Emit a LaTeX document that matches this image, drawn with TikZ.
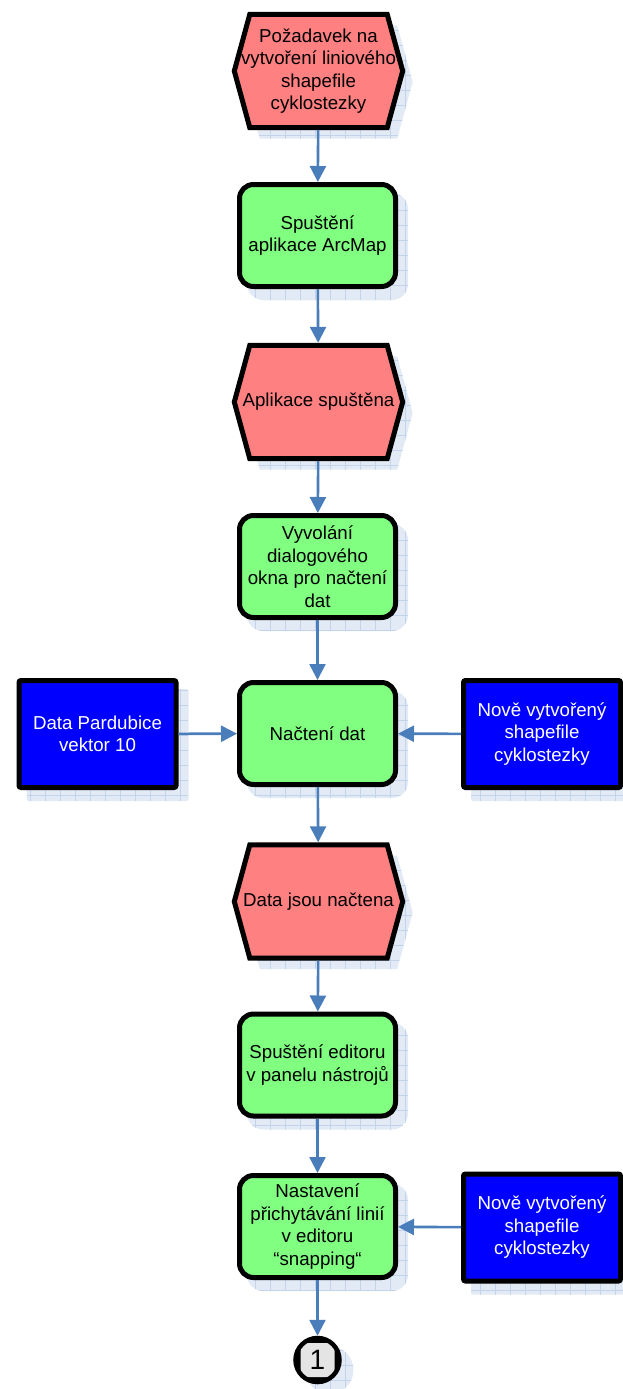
\documentclass[tikz,border=0pt]{standalone}
\usepackage{fontspec}
\setmainfont{Liberation Sans}
\usetikzlibrary{arrows.meta,backgrounds,calc}

\definecolor{evtpink}{HTML}{FF8080}
\definecolor{fungreen}{HTML}{80FF80}
\definecolor{datablue}{HTML}{0000FF}
\definecolor{flowblue}{HTML}{4A7EBB}
\definecolor{shadowfill}{HTML}{E2EAF5}
\definecolor{shadowgrid}{HTML}{C3D3EA}
\definecolor{connbg}{HTML}{E4E4E4}

% hexagon outline around a (text) node; #2,#3 shift it
\newcommand\hexpath[3]{($(#1.west)+(2.5+#2,#3)$) -- ($(#1.north west)+(18+#2,2.5+#3)$) -- ($(#1.north east)+(-18+#2,2.5+#3)$) -- ($(#1.east)+(-2.5+#2,#3)$) -- ($(#1.south east)+(-18+#2,-2.5+#3)$) -- ($(#1.south west)+(18+#2,-2.5+#3)$) -- cycle}

% gridded drop shadow behind a box node
\newcommand\boxshadow[2]{%
  \fill[shadowfill, rounded corners=#2] ($(#1.north west)+(10,11)$) rectangle ($(#1.south east)+(10,11)$);
  \begin{scope}
    \clip[rounded corners=#2] ($(#1.north west)+(10,11)$) rectangle ($(#1.south east)+(10,11)$);
    \draw[shadowgrid, line width=0.6pt, step=15pt] ($(#1.north west)+(10,11)$) grid ($(#1.south east)+(10,11)$);
  \end{scope}}

% gridded drop shadow plus outline for an event hexagon
\newcommand\eventshape[1]{%
  \fill[shadowfill] \hexpath{#1}{10}{11};
  \begin{scope}
    \clip \hexpath{#1}{10}{11};
    \draw[shadowgrid, line width=0.6pt, step=15pt] ($(#1.north west)+(0,0)$) grid ($(#1.south east)+(20,20)$);
  \end{scope}
  \draw[line width=5pt, fill=evtpink, line join=miter] \hexpath{#1}{0}{0};}

\begin{document}
\begin{tikzpicture}[x=1pt,y=-1pt,
  txt/.style={font=\fontsize{18.7}{22.5}\selectfont, align=center, inner sep=0pt},
  funcbox/.style={txt, draw=black, line width=5pt, fill=fungreen, rounded corners=14pt,
                  minimum width=156pt, minimum height=102pt},
  databox/.style={txt, text=white, draw=black, line width=5pt, fill=datablue, rounded corners=2pt,
                  minimum width=157pt, minimum height=107pt},
  eventbox/.style={txt, minimum width=173pt, minimum height=118pt},
  flow/.style={draw=flowblue, line width=2.6pt, -{Triangle[length=16pt,width=16pt]}},
]
\useasboundingbox (0,0) rectangle (623,1389);

% events, functions and data
\node[eventbox] (e1) at (318.5,71) {Požadavek na\\vytvoření liniového\\shapefile\\cyklostezky};
\node[funcbox]  (a1) at (317.5,235.5) {Spuštění\\aplikace ArcMap};
\node[eventbox] (e2) at (318.5,402) {Aplikace spuštěna};
\node[funcbox]  (a2) at (317.5,566.5) {Vyvolání\\dialogového\\okna pro načtení\\dat};
\node[funcbox]  (a3) at (317.5,733.5) {Načtení dat};
\node[databox]  (d1) at (97.5,734) {Data Pardubice\\vektor 10};
\node[databox]  (d2) at (542,734) {Nově vytvořený\\shapefile\\cyklostezky};
\node[eventbox] (e3) at (318.5,901.5) {Data jsou načtena};
\node[funcbox]  (a4) at (317.5,1065) {Spuštění editoru\\v panelu nástrojů};
\node[funcbox]  (a5) at (317.5,1226.5) {Nastavení\\přichytávání linií\\v editoru\\“snapping“};
\node[databox]  (d3) at (542,1227.5) {Nově vytvořený\\shapefile\\cyklostezky};
\node[circle, draw=black, fill=black, line width=4.5pt, minimum size=44pt, inner sep=0pt,
      font=\fontsize{28}{28}\selectfont,
      path picture={\fill[connbg, rounded corners=5pt]
        ($(path picture bounding box.center)+(-17,-17)$) rectangle ($(path picture bounding box.center)+(17,17)$);}]
      (c1) at (317.5,1360) {1};

% shadows and hexagon outlines
\begin{scope}[on background layer]
  \eventshape{e1}
  \eventshape{e2}
  \eventshape{e3}
  \boxshadow{a1}{16pt}
  \boxshadow{a2}{16pt}
  \boxshadow{a3}{16pt}
  \boxshadow{a4}{16pt}
  \boxshadow{a5}{16pt}
  \boxshadow{d1}{2pt}
  \boxshadow{d2}{2pt}
  \boxshadow{d3}{2pt}
  \fill[shadowfill] ($(c1.center)+(12,10)$) circle (24pt);
  \begin{scope}
    \clip ($(c1.center)+(12,10)$) circle (24pt);
    \draw[shadowgrid, line width=0.6pt, step=15pt] ($(c1.center)+(-15,-15)$) grid ($(c1.center)+(40,40)$);
  \end{scope}
\end{scope}

% control flow
\draw[flow] (e1) -- (a1);
\draw[flow] (a1) -- (e2);
\draw[flow] (e2) -- (a2);
\draw[flow] (a2) -- (a3);
\draw[flow] (d1) -- (a3);
\draw[flow] (d2) -- (a3);
\draw[flow] (a3) -- (e3);
\draw[flow] (e3) -- (a4);
\draw[flow] (a4) -- (a5);
\draw[flow] (d3) -- (a5);
\draw[flow] (a5) -- (c1);
\end{tikzpicture}
\end{document}
